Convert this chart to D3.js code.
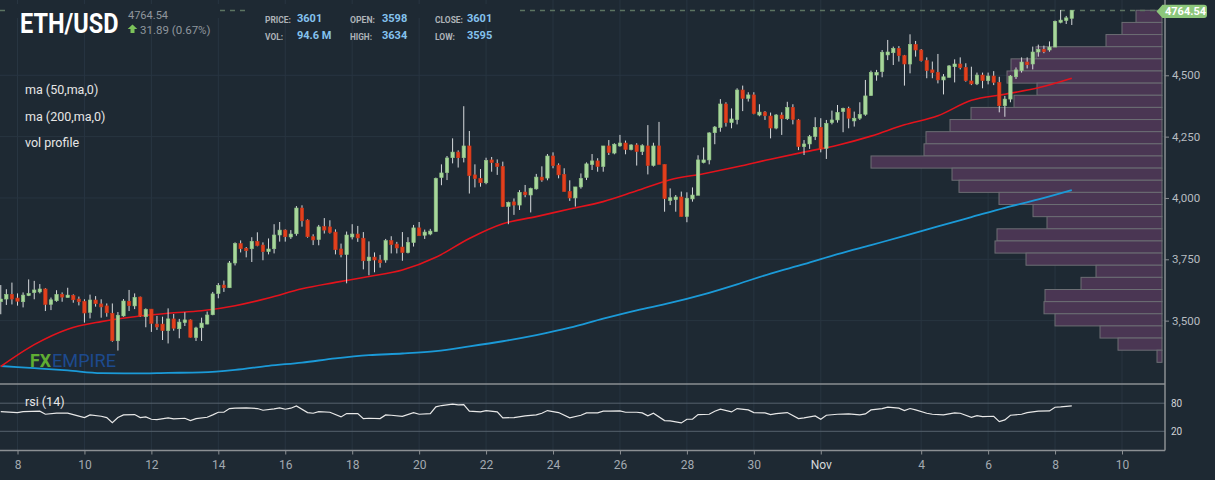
<!DOCTYPE html>
<html>
<head>
<meta charset="utf-8">
<script src="https://cdn.jsdelivr.net/npm/d3@7"></script>
<style>
html, body { margin: 0; padding: 0; background: #1e2933; }
svg { display: block; font-family: Roboto, "Noto Sans", sans-serif; }
</style>
</head>
<body>
<svg id="chart" width="1215" height="480"></svg>
<script>
// 4h candles, first one at Oct 7 12:00 UTC
var candleStart = Date.UTC(2021, 9, 7, 12);
var stepMs = 4 * 3600 * 1000;

var open = [
  3577,3588,3607,3592,3577,3602,3614,3617,3629,3566,
  3581,3607,3594,3603,3588,3579,3534,3584,3568,3560,
  3530,3418,3519,3579,3560,3596,3516,3547,3486,3486,
  3459,3507,3467,3492,3503,3431,3471,3486,3524,3610,
  3645,3634,3735,3814,3795,3793,3823,3808,3781,3793,
  3849,3869,3841,3854,3959,3910,3842,3830,3883,3882,
  3861,3792,3769,3841,3853,3836,3744,3759,3747,3747,
  3826,3812,3800,3777,3818,3878,3848,3853,3863,4083,
  4103,4164,4187,4164,4212,4094,4080,4062,4155,4141,
  4128,3965,3984,3971,4024,4012,4037,4085,4081,4171,
  4134,4096,4027,4000,4045,4083,4136,4151,4128,4212,
  4183,4212,4224,4197,4216,4189,4212,4132,4212,4137,
  3989,3993,4004,3924,3996,4011,4144,4155,4266,4287,
  4383,4307,4319,4440,4406,4420,4338,4350,4334,4285,
  4338,4323,4369,4318,4209,4220,4250,4288,4202,4307,
  4318,4352,4365,4314,4325,4341,4417,4501,4515,4583,
  4592,4610,4580,4546,4626,4603,4560,4522,4512,4481,
  4492,4535,4546,4532,4477,4465,4501,4478,4497,4471,
  4376,4403,4494,4519,4554,4546,4595,4606,4603,4615,
  4716,4723,4732
];
var high = [
  3645,3628,3655,3611,3615,3668,3662,3649,3632,3594,
  3624,3615,3634,3607,3598,3587,3606,3600,3587,3570,
  3570,3535,3588,3625,3611,3598,3550,3547,3519,3516,
  3550,3527,3507,3534,3505,3475,3512,3537,3617,3653,
  3663,3743,3819,3827,3800,3840,3860,3819,3835,3893,
  3902,3872,3869,3967,3970,3913,3852,3890,3918,3909,
  3872,3814,3863,3893,3886,3861,3823,3778,3768,3833,
  3844,3821,3861,3840,3890,3902,3871,3874,4083,4137,
  4171,4243,4194,4374,4273,4137,4118,4164,4167,4157,
  4148,3985,3998,4032,4053,4042,4098,4129,4179,4186,
  4141,4121,4072,4045,4100,4145,4179,4162,4212,4236,
  4223,4257,4234,4219,4223,4219,4297,4225,4310,4137,
  4039,4012,4026,4023,4043,4174,4206,4268,4293,4403,
  4390,4365,4447,4458,4431,4431,4382,4354,4348,4342,
  4349,4392,4382,4322,4236,4257,4329,4325,4318,4356,
  4379,4368,4372,4352,4390,4481,4519,4522,4603,4644,
  4617,4619,4583,4667,4640,4607,4573,4556,4587,4505,
  4542,4565,4573,4549,4535,4511,4511,4511,4517,4494,
  4416,4501,4532,4573,4573,4617,4625,4621,4638,4723,
  4766,4742,4765
];
var low = [
  3526,3564,3566,3561,3554,3600,3587,3611,3539,3543,
  3577,3577,3594,3573,3562,3492,3509,3557,3512,3516,
  3414,3378,3516,3539,3547,3516,3473,3454,3462,3421,
  3407,3459,3428,3478,3431,3417,3417,3485,3522,3591,
  3617,3633,3725,3778,3758,3739,3803,3746,3770,3774,
  3822,3822,3833,3846,3883,3838,3808,3807,3855,3855,
  3770,3758,3652,3831,3821,3709,3685,3697,3716,3736,
  3774,3774,3744,3774,3802,3846,3833,3848,3863,4052,
  4073,4141,4124,4145,4018,4043,4046,4056,4107,4094,
  3963,3893,3931,3951,4003,3941,4034,4066,4072,4121,
  4080,4026,3988,3965,4038,4073,4114,4107,4107,4175,
  4178,4209,4178,4194,4132,4175,4096,4128,4137,3944,
  3971,3944,3924,3901,3985,4011,4141,4137,4219,4270,
  4291,4284,4300,4354,4393,4341,4333,4318,4243,4280,
  4257,4318,4300,4195,4175,4200,4236,4186,4159,4300,
  4307,4268,4284,4291,4318,4335,4417,4478,4492,4562,
  4542,4556,4458,4508,4576,4556,4488,4488,4467,4422,
  4490,4471,4524,4474,4460,4460,4447,4463,4460,4349,
  4331,4390,4485,4511,4528,4524,4576,4590,4596,4615,
  4712,4709,4705
];
var close = [
  3588,3607,3588,3579,3604,3611,3625,3629,3566,3585,
  3607,3596,3604,3585,3577,3531,3584,3569,3556,3532,
  3418,3522,3580,3561,3595,3519,3546,3489,3474,3459,
  3507,3469,3494,3503,3432,3470,3490,3523,3609,3644,
  3634,3735,3814,3793,3785,3823,3806,3781,3792,3849,
  3869,3842,3853,3959,3907,3842,3829,3882,3869,3859,
  3789,3769,3849,3853,3837,3744,3759,3747,3736,3826,
  3810,3796,3777,3819,3878,3846,3861,3865,4080,4102,
  4163,4187,4164,4212,4091,4079,4062,4153,4144,4128,
  3965,3982,3971,4023,4013,4039,4085,4073,4171,4132,
  4094,4026,4000,4045,4080,4139,4151,4128,4212,4185,
  4219,4224,4197,4216,4189,4213,4132,4212,4137,3997,
  4001,4004,3924,3999,4012,4155,4155,4265,4289,4383,
  4307,4322,4440,4406,4420,4344,4350,4335,4285,4338,
  4323,4369,4320,4209,4220,4250,4288,4200,4304,4318,
  4349,4365,4325,4325,4341,4416,4512,4512,4594,4595,
  4610,4580,4546,4626,4603,4560,4519,4511,4481,4494,
  4538,4546,4531,4478,4465,4501,4478,4497,4471,4376,
  4403,4497,4522,4554,4543,4595,4606,4596,4615,4720,
  4725,4734,4764.54
];

// moving averages read once per day (every 6th candle, from the first one)
var maStep = 6;
var ma50 = [3313,3402,3465,3496,3516,3530,3540,3561,3592,3630,3656,3680,3706,3758,3835,3895,3924,
            3955,3985,4029,4074,4099,4127,4158,4187,4215,4252,4298,4335,4398,4423,4449,4488];
var ma200 = [3315,3306,3297,3286,3285,3287,3289,3299,3316,3329,3346,3359,3366,3376,3395,3416,3441,
             3471,3508,3542,3572,3607,3648,3692,3730,3771,3808,3845,3884,3922,3960,3994,4032];

// rsi (14): candle number (0 = first candle) and value
var rsiIndex = [0,3,4,7,8,10,12,13,15,16,18,19,20,21,22,24,25,26,27,28,30,31,33,34,35,37,38,39,40,41,
  42,44,46,47,49,50,51,52,53,55,56,57,59,61,62,64,65,66,68,69,70,72,74,75,77,78,79,81,82,83,
  84,86,87,89,90,92,94,96,97,98,100,102,104,105,107,108,109,111,112,114,115,116,117,119,120,122,123,124,125,127,
  128,129,131,132,134,135,137,138,139,141,143,144,146,147,148,150,152,154,155,156,158,159,161,162,163,164,166,167,169,171,
  172,174,175,176,178,179,180,181,183,184,185,186,188,189,190,192];
var rsiValue = [62.1,60,62.1,62.9,56.4,58.6,58.6,55.7,49.3,55,52.1,49.3,38.6,49.3,55,55.7,49.3,50.7,45.7,45,48.6,46.4,47.9,42.9,47.1,50,55,60.7,60.7,68.6,
  69.3,70,68.6,65,67.9,70,67.1,69.3,74.3,60,58.6,62.1,60.7,50.7,57.9,57.9,47.1,47.9,47.1,55,54.3,52.1,60,56.4,57.9,72.1,75,77.9,76.4,77.1,
  62.9,61.4,64.3,61.4,48.6,49.3,52.9,55,58.6,64.3,60,48.6,54.3,59.3,59.5,62.9,62.9,63.6,60.7,60.7,59.3,52.9,58.6,42.9,42.1,37.9,45.7,45.7,55.7,56.4,
  62.9,67.1,61.4,68.6,65.7,60,59.3,55.7,57.9,60,47.1,48.6,52.9,45.7,54.3,56.4,57.1,55,57.1,65.7,68.6,71.4,69.3,64.3,68.6,65.7,58.6,56.4,55,59.3,
  58.6,50,53.6,51.4,52.1,40.7,44.3,54.3,56.4,60,61.4,62.9,63.6,71.4,72.1,74.3];

// volume profile, top price bin first
var profileVolume = [26,40,56,126,151,155,125,148,191,212,236,238,291,210,203,163,129,115,165,167,136,66,81,117,118,107,62,44,5];
var profileRange = [3330, 4765];

var xTickDates = ["2021-10-08","2021-10-10","2021-10-12","2021-10-14","2021-10-16","2021-10-18","2021-10-20",
  "2021-10-22","2021-10-24","2021-10-26","2021-10-28","2021-10-30","2021-11-01","2021-11-04","2021-11-06",
  "2021-11-08","2021-11-10"];
var priceTicks = [3500, 3750, 4000, 4250, 4500];
var rsiTicks = [20, 80];

var lastPrice = 4764.54, change = 31.89, changePct = 0.67;
var statLabels = ["PRICE:", "VOL:", "OPEN:", "HIGH:", "CLOSE:", "LOW:"];
var statValues = ["3601", "94.6 M", "3598", "3634", "3601", "3595"];
var legendNames = ["ma (50,ma,0)", "ma (200,ma,0)", "vol profile"];

var width = 1215, height = 480,
    plotRight = 1165,
    mainBottom = 384,
    rsiBottom = 450.5;

var bg = "#1e2933", gridColor = "#283541", axisColor = "#8b8f93";
var upColor = "#a7d69b", downColor = "#e2401d", wickColor = "#d7dadd";

var svg = d3.select("#chart");

svg.append("rect").attr("width", width).attr("height", height).attr("fill", bg);

var x = d3.scaleUtc()
    .domain([new Date(Date.UTC(2021, 9, 7, 11, 27)), new Date(Date.UTC(2021, 10, 11, 6, 50))])
    .range([0, plotRight]);

var y = d3.scaleLinear().domain([3241.7, 4806.9]).range([mainBottom, 0]);
var yRsi = d3.scaleLinear().domain([-21, 121]).range([rsiBottom, mainBottom]);

var candleTime = function (i) { return new Date(candleStart + i * stepMs); };
var tickDates = xTickDates.map(function (d) { return new Date(d + "T00:00:00Z"); });

// grid
var grid = svg.append("g");
grid.selectAll(".vg")
    .data(tickDates)
    .join("line")
    .attr("x1", d => x(d)).attr("x2", d => x(d))
    .attr("y1", 0).attr("y2", rsiBottom)
    .attr("stroke", gridColor).attr("stroke-width", 1);
grid.selectAll(".hg")
    .data(priceTicks)
    .join("line")
    .attr("x1", 0).attr("x2", plotRight)
    .attr("y1", d => y(d)).attr("y2", d => y(d))
    .attr("stroke", gridColor).attr("stroke-width", 1);

// volume profile
var binSize = (profileRange[1] - profileRange[0]) / profileVolume.length;
var vx = d3.scaleLinear().domain([0, d3.max(profileVolume)]).range([0, 291]);
svg.append("g")
    .selectAll("rect")
    .data(profileVolume)
    .join("rect")
    .attr("x", d => 1162 - vx(d))
    .attr("width", d => vx(d))
    .attr("y", (d, i) => y(profileRange[1] - i * binSize))
    .attr("height", (d, i) => y(profileRange[1] - (i + 1) * binSize) - y(profileRange[1] - i * binSize))
    .attr("fill", "#4a3653")
    .attr("stroke", "#6c6e74")
    .attr("stroke-width", 1);

// last price dashed line
svg.append("line")
    .attr("x1", 0).attr("x2", 1157)
    .attr("y1", y(lastPrice)).attr("y2", y(lastPrice))
    .attr("stroke", "#5c7462").attr("stroke-width", 1.5)
    .attr("stroke-dasharray", "5,5");
svg.append("rect").attr("x", 5).attr("y", 4).attr("width", 214).attr("height", 14).attr("fill", bg);
svg.append("rect").attr("x", 246).attr("y", 4).attr("width", 274).attr("height", 14).attr("fill", bg);

// moving averages
var maLine = d3.line()
    .x((d, i) => x(candleTime(i * maStep)))
    .y(d => y(d))
    .curve(d3.curveMonotoneX);

svg.append("path").datum(ma200)
    .attr("d", maLine).attr("fill", "none")
    .attr("stroke", "#1b9ad8").attr("stroke-width", 1.8);
svg.append("path").datum(ma50)
    .attr("d", maLine).attr("fill", "none")
    .attr("stroke", "#e3131c").attr("stroke-width", 1.6);

// candles
var candles = d3.range(open.length);
var bodyW = 3.4;
var cg = svg.append("g");
cg.selectAll("line")
    .data(candles)
    .join("line")
    .attr("x1", i => x(candleTime(i))).attr("x2", i => x(candleTime(i)))
    .attr("y1", i => y(high[i])).attr("y2", i => y(low[i]))
    .attr("stroke", wickColor).attr("stroke-width", 1);
cg.selectAll("rect")
    .data(candles)
    .join("rect")
    .attr("x", i => x(candleTime(i)) - bodyW / 2)
    .attr("width", bodyW)
    .attr("y", i => y(Math.max(open[i], close[i])))
    .attr("height", i => Math.max(1.6, Math.abs(y(open[i]) - y(close[i]))))
    .attr("fill", i => close[i] >= open[i] ? upColor : downColor)
    .attr("stroke", i => close[i] >= open[i] ? "#8fc483" : "#c63418")
    .attr("stroke-width", 0.6);

// rsi panel
svg.selectAll(".rl")
    .data(rsiTicks)
    .join("line")
    .attr("x1", 0).attr("x2", plotRight)
    .attr("y1", d => yRsi(d)).attr("y2", d => yRsi(d))
    .attr("stroke", "#56626d").attr("stroke-width", 1);

svg.append("path")
    .datum(rsiIndex)
    .attr("d", d3.line().x(i => x(candleTime(i))).y((i, k) => yRsi(rsiValue[k])))
    .attr("fill", "none")
    .attr("stroke", "#e8e8e8")
    .attr("stroke-width", 1.2);

// frame lines
svg.append("line").attr("x1", 0).attr("x2", plotRight).attr("y1", mainBottom).attr("y2", mainBottom)
    .attr("stroke", axisColor).attr("stroke-width", 1.5);
svg.append("line").attr("x1", 0).attr("x2", plotRight).attr("y1", rsiBottom).attr("y2", rsiBottom)
    .attr("stroke", axisColor).attr("stroke-width", 1.5);
svg.append("line").attr("x1", plotRight).attr("x2", plotRight).attr("y1", 0).attr("y2", rsiBottom)
    .attr("stroke", axisColor).attr("stroke-width", 1.5);

// axes
var xAxis = d3.axisBottom(x)
    .tickValues(tickDates)
    .tickSize(4)
    .tickPadding(6)
    .tickFormat(d => d.getUTCDate() === 1 ? d3.utcFormat("%b")(d) : d.getUTCDate());

svg.append("g")
    .attr("transform", `translate(0,${rsiBottom})`)
    .call(xAxis)
    .call(g => {
        g.select(".domain").remove();
        g.selectAll("line").attr("stroke", axisColor);
        g.selectAll("text")
            .attr("font-size", 12)
            .attr("font-family", "Roboto, sans-serif")
            .attr("fill", d => d.getUTCDate() === 1 ? "#d6d9dc" : "#a3aab1");
    });

svg.append("g")
    .attr("transform", `translate(${plotRight},0)`)
    .call(d3.axisRight(y).tickValues(priceTicks).tickSize(4).tickPadding(3))
    .call(g => {
        g.select(".domain").remove();
        g.selectAll("line").attr("stroke", axisColor);
        g.selectAll("text")
            .attr("font-size", 11.5)
            .attr("font-family", "Roboto, sans-serif")
            .attr("fill", "#b7bcc1");
    });

svg.append("g")
    .attr("transform", `translate(${plotRight},0)`)
    .call(d3.axisRight(yRsi).tickValues(rsiTicks).tickSize(0).tickPadding(6))
    .call(g => {
        g.select(".domain").remove();
        g.selectAll("text")
            .attr("font-size", 10)
            .attr("font-family", "Roboto, sans-serif")
            .attr("fill", "#d0d3d6");
    });

// last price badge
var by = y(lastPrice) + 1;
svg.append("path")
    .attr("d", `M1156.5,${by} L1162.5,${by - 6.6} H1204 Q1207,${by - 6.6} 1207,${by - 3.6} V${by + 3.6} Q1207,${by + 6.6} 1204,${by + 6.6} H1162.5 Z`)
    .attr("fill", "#8cc67b");
svg.append("text")
    .attr("x", 1185.5).attr("y", by + 4)
    .attr("text-anchor", "middle")
    .attr("font-size", 11).attr("font-weight", "bold")
    .attr("fill", "#ffffff")
    .text(d3.format(".2f")(lastPrice));

// header (title squeezed horizontally like the condensed face of the original)
svg.append("text")
    .attr("transform", "translate(20,33) scale(0.87,1)")
    .attr("font-size", 27).attr("font-weight", "bold")
    .attr("fill", "#ffffff")
    .text("ETH/USD");
svg.append("text")
    .attr("x", 128).attr("y", 18.5)
    .attr("font-size", 11).attr("fill", "#8f969d")
    .text(d3.format(".2f")(lastPrice));
svg.append("path")
    .attr("d", "M132.5,24.5 L137.3,29 L134.5,29 L134.5,33 L130.5,33 L130.5,29 L127.7,29 Z")
    .attr("fill", "#7cc35a");
svg.append("text")
    .attr("x", 140).attr("y", 33.5)
    .attr("font-size", 11.5).attr("fill", "#8f969d")
    .text(`${change} (${changePct}%)`);

var statLabelWidth = [26, 18, 25, 22, 28, 20];
var stats = svg.append("g");
statLabels.forEach(function (lab, i) {
    var col = Math.floor(i / 2), row = i % 2;
    stats.append("text")
        .attr("x", 265 + col * 85).attr("y", 23 + row * 17)
        .attr("font-size", 9.5).attr("font-weight", "bold")
        .attr("textLength", statLabelWidth[i]).attr("lengthAdjust", "spacingAndGlyphs")
        .attr("fill", "#aeb3b8")
        .text(lab);
    stats.append("text")
        .attr("x", 297 + col * 85).attr("y", 22 + row * 17)
        .attr("font-size", 11).attr("font-weight", "bold")
        .attr("fill", "#84c2ee")
        .text(statValues[i]);
});

// legend
svg.append("g")
    .selectAll("text")
    .data(legendNames)
    .join("text")
    .attr("x", 25)
    .attr("y", (d, i) => 94 + i * 26.5)
    .attr("font-size", 12.5)
    .attr("fill", "#e6e6e6")
    .text(d => d);

svg.append("text")
    .attr("x", 25).attr("y", 406)
    .attr("font-size", 12.5).attr("fill", "#e6e6e6")
    .text("rsi (14)");

// logo
svg.append("text")
    .attr("x", 30).attr("y", 367)
    .attr("font-size", 18).attr("font-weight", "bold")
    .attr("textLength", 21).attr("lengthAdjust", "spacingAndGlyphs")
    .attr("fill", "#5fae33")
    .text("FX");
svg.append("text")
    .attr("x", 52).attr("y", 367)
    .attr("font-size", 18)
    .attr("textLength", 64).attr("lengthAdjust", "spacingAndGlyphs")
    .attr("fill", "#1d4a8e")
    .text("EMPIRE");
</script>
</body>
</html>
